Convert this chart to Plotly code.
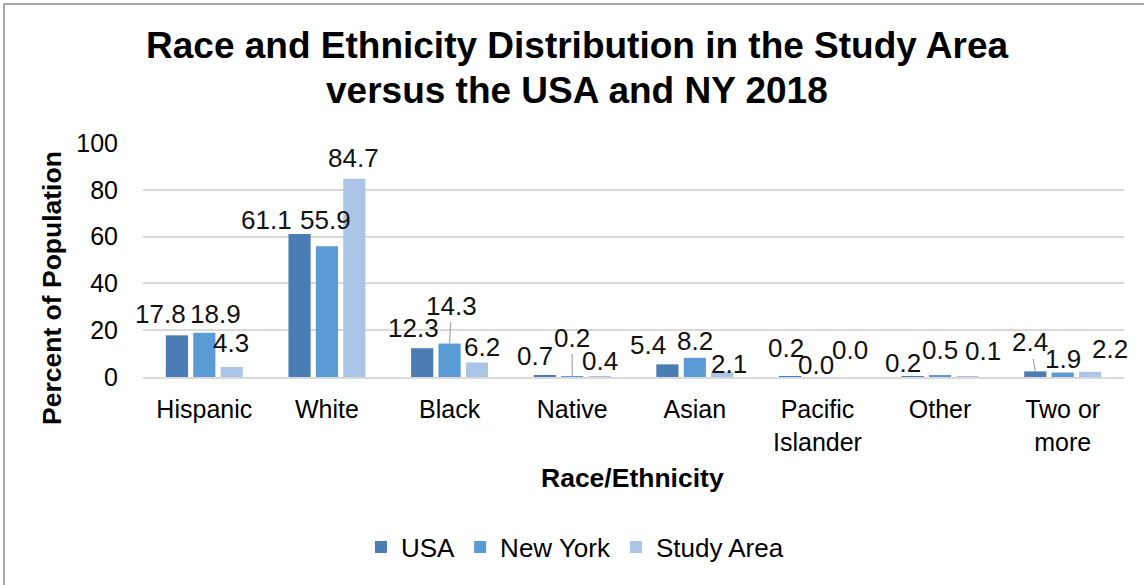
import plotly.graph_objects as go

# ---------------- data ----------------
categories = ["Hispanic", "White", "Black", "Native", "Asian",
              "Pacific<br>Islander", "Other", "Two or<br>more"]
usa = [17.8, 61.1, 12.3, 0.7, 5.4, 0.2, 0.2, 2.4]
new_york = [18.9, 55.9, 14.3, 0.2, 8.2, 0.0, 0.5, 1.9]
study_area = [4.3, 84.7, 6.2, 0.4, 2.1, 0.0, 0.1, 2.2]
series_names = ["USA", "New York", "Study Area"]
y_ticks = [0, 20, 40, 60, 80, 100]

# ---------------- styles ----------------
colors = ["#4a7db3", "#5b9bd5", "#abc5e6"]
FONT = "Arial, Liberation Sans, Helvetica, sans-serif"
FS = 25
LFS = 26
# label placement (pixels from bar-top centre to label centre)
label_dx = [[-16, -33, -9, -10, -19, -4, -10, -5],
            [11, -1, 2, 0, 0, -1, 0, 0],
            [-1, -1, 5, 0, 7, 5, 16, 20]]
label_dy = [[21, 14, 20, 19, 19, 29, 14, 29],
            [19, 26, 38, 39, 17, 12, 26, 14],
            [24, 21, 15, 15, 8, 27, 26, 23]]
leaders = {(1, 2), (1, 3), (0, 7)}

W, H = 1144, 585
ML, MR, MT, MB = 143, 20, 143, 208
PW = W - ML - MR
PH = H - MT - MB
BARGAP = 0.33
slot = PW / len(categories) * (1 - BARGAP) / 3

all_series = [usa, new_york, study_area]

fig = go.Figure()
for name, vals, col in zip(series_names, all_series, colors):
    fig.add_trace(go.Bar(x=categories, y=vals, name=name,
                         marker=dict(color=col, line=dict(width=0))))

annotations = []
for s, vals in enumerate(all_series):
    off = (s - 1) * slot
    for i, (cat, v) in enumerate(zip(categories, vals)):
        txt = f"{v:.1f}"
        if (s, i) in leaders:
            annotations.append(dict(
                x=cat, y=v, xref="x", yref="y", text=txt, showarrow=True,
                arrowhead=0, arrowwidth=1.2, arrowcolor="#a6a6a6", standoff=0,
                ax=label_dx[s][i], ay=-label_dy[s][i], xshift=off,
                font=dict(size=LFS, color="#111", family=FONT)))
        else:
            annotations.append(dict(
                x=cat, y=v, xref="x", yref="y", text=txt, showarrow=False,
                xanchor="center", yanchor="middle",
                xshift=off + label_dx[s][i], yshift=label_dy[s][i],
                font=dict(size=LFS, color="#111", family=FONT)))

def px_x(p):
    return (p - ML) / PW

def px_y(p):
    return (H - MB - p) / PH

# title (two lines)
annotations.append(dict(text="<b>Race and Ethnicity Distribution in the Study Area</b>",
                        x=px_x(577), y=px_y(46), xref="paper", yref="paper",
                        showarrow=False, xanchor="center", yanchor="middle",
                        font=dict(size=37, color="#000", family=FONT)))
annotations.append(dict(text="<b>versus the USA and NY 2018</b>",
                        x=px_x(577), y=px_y(91), xref="paper", yref="paper",
                        showarrow=False, xanchor="center", yanchor="middle",
                        font=dict(size=37, color="#000", family=FONT)))
# axis titles
annotations.append(dict(text="<b>Race/Ethnicity</b>",
                        x=px_x(632), y=px_y(478), xref="paper", yref="paper",
                        showarrow=False, xanchor="center", yanchor="middle",
                        font=dict(size=26.5, color="#000", family=FONT)))
annotations.append(dict(text="<b>Percent of Population</b>", textangle=-90,
                        x=px_x(52), y=px_y(288), xref="paper", yref="paper",
                        showarrow=False, xanchor="center", yanchor="middle",
                        font=dict(size=26.5, color="#000", family=FONT)))

fig.update_layout(
    width=W, height=H,
    margin=dict(l=ML, r=MR, t=MT, b=MB, autoexpand=False),
    paper_bgcolor="white", plot_bgcolor="white",
    barmode="group", bargap=BARGAP, bargroupgap=0.19,
    font=dict(family=FONT, size=FS, color="#000"),
    showlegend=True,
    legend=dict(orientation="h", x=px_x(575), xanchor="center",
                y=px_y(547), yanchor="middle",
                font=dict(size=26, color="#000", family=FONT),
                bgcolor="rgba(0,0,0,0)"),
    annotations=annotations,
    shapes=[dict(type="rect", xref="paper", yref="paper",
                 x0=px_x(4), x1=px_x(1160), y0=px_y(600), y1=px_y(4),
                 line=dict(color="#8c8c8c", width=1.5), layer="above")],
)
fig.update_xaxes(range=[-0.5, len(categories) - 0.5], autorange=False,
                 showline=True, linecolor="#d9d9d9", linewidth=2,
                 ticks="", showgrid=False, tickfont=dict(size=FS, color="#000"),
                 ticklabelstandoff=9)
fig.update_yaxes(range=[0, 100], autorange=False, tickvals=y_ticks, showgrid=True,
                 gridcolor="#d9d9d9", gridwidth=1.5, zeroline=False,
                 showline=False, ticks="", tickfont=dict(size=FS, color="#000"),
                 ticklabelstandoff=24)

fig.write_html("out.html",
               config={"displayModeBar": False},
               post_script="document.body.style.margin='0';"
                           "document.body.style.overflow='hidden';")
